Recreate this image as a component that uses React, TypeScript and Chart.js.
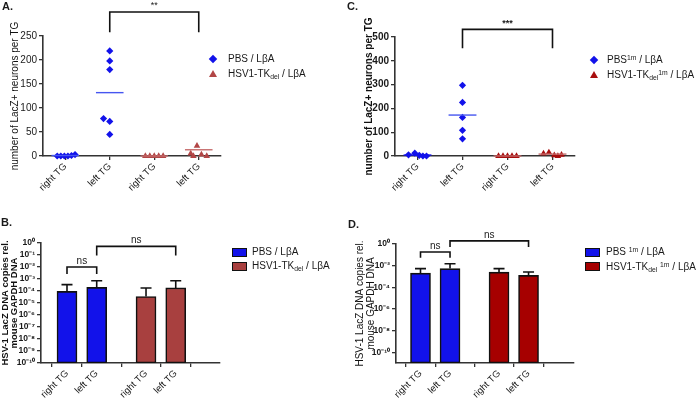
import React, { useEffect, useRef } from "react";
import { Chart, registerables } from "chart.js";
Chart.register(...registerables);

const FONT = "'Liberation Sans', Arial, sans-serif";

// ---------- shared categories ----------
const tgLabels = ["right TG", "left TG", "right TG", "left TG"];
const groupIndex = [1, 2, 3, 4];

// ---------- Panel A: LacZ+ neurons per TG ----------
const aPbsRightTG = [0, 0, 0, 0, 1, 3];
const aPbsRightJitter = [-0.18, -0.1, -0.02, 0.06, 0.14, 0.22];
const aPbsLeftTG = [219, 198, 180, 78, 72, 45];
const aPbsLeftJitter = [0, 0, 0, -0.14, 0, 0];
const aHsvRightTG = [0, 0, 0, 0, 0];
const aHsvRightJitter = [-0.2, -0.1, 0, 0.1, 0.2];
const aHsvLeftTG = [21, 5, 3, 0, 0];
const aHsvLeftJitter = [-0.04, -0.18, 0.06, -0.12, 0.18];
const aMeansPbs = [1, 132];
const aMeansHsv = [0, 13];
const aBracket = { from: 2, to: 4, top: 300, end: 258, text: "**" };

// ---------- Panel C: LacZ+ neurons per TG (1m) ----------
const cPbsRightTG = [12, 5, 3, 0, 0];
const cPbsRightJitter = [-0.06, -0.2, 0.04, 0.12, 0.2];
const cPbsLeftTG = [297, 225, 162, 108, 72];
const cPbsLeftJitter = [0, 0, 0, 0, 0];
const cHsvRightTG = [0, 0, 0, 0, 0];
const cHsvRightJitter = [-0.2, -0.1, 0, 0.1, 0.2];
const cHsvLeftTG = [15, 10, 3, 0, 5];
const cHsvLeftJitter = [-0.08, -0.2, 0.04, 0.12, 0.2];
const cMeansPbs = [4, 172];
const cMeansHsv = [0, 8];
const cBracket = { from: 2, to: 4, top: 532, end: 453, text: "***" };

// ---------- Panel B: LacZ DNA copies (log) ----------
const barPositions = [1, 2, 3.66, 4.66];
const bPbsMeans = [9.3e-5, 2.0e-4];
const bPbsErrTop = [3.4e-4, 7.2e-4];
const bHsvMeans = [3.5e-5, 1.8e-4];
const bHsvErrTop = [1.8e-4, 7.2e-4];
const bYTicks = [1e-10, 1e-9, 1e-8, 1e-7, 1e-6, 1e-5, 1e-4, 1e-3, 1e-2, 1e-1, 1];
const bBrackets = [
  { from: 1, to: 2, top: 1.0e-2, end: 2.6e-3, text: "ns" },
  { from: 2, to: 4.66, top: 0.52, end: 0.093, text: "ns" },
];

// ---------- Panel D: LacZ DNA copies (log, 1m) ----------
const dPbsMeans = [2.0e-3, 5.3e-3];
const dPbsErrTop = [5.3e-3, 1.5e-2];
const dHsvMeans = [2.5e-3, 1.25e-3];
const dHsvErrTop = [5.3e-3, 2.6e-3];
const dYTicks = [1e-10, 1e-8, 1e-6, 1e-4, 1e-2, 1];
const dBrackets = [
  { from: 1, to: 2, top: 0.18, end: 0.055, text: "ns" },
  { from: 2, to: 4.66, top: 1.95, end: 0.54, text: "ns" },
];

// ---------- styles ----------
const BLUE = "#1212ea";
const AXIS = "#333";
const TXT = "#1a1a1a";

const SUP: Record<string, string> = {
  "0": "⁰", "1": "¹", "2": "²", "3": "³", "4": "⁴", "5": "⁵",
  "6": "⁶", "7": "⁷", "8": "⁸", "9": "⁹", "-": "⁻",
};
const pow10 = (v: number) =>
  "10" + String(Math.round(Math.log10(v))).split("").map((c) => SUP[c]).join("");

type Br = { from: number; to: number; top: number; end: number; text: string };

const bracketDataset = (b: Br) => ({
  type: "line",
  data: [
    { x: b.from, y: b.end },
    { x: b.from, y: b.top },
    { x: b.to, y: b.top },
    { x: b.to, y: b.end },
  ],
  borderColor: "#111",
  borderWidth: 1.6,
  pointRadius: 0,
  fill: false,
  tension: 0,
  clip: false,
  borderJoinStyle: "miter",
});

const meanDataset = (center: number, m: number, color: string) => ({
  type: "line",
  data: [
    { x: center - 0.31, y: m },
    { x: center + 0.31, y: m },
  ],
  borderColor: color,
  borderWidth: 1.4,
  pointRadius: 0,
  fill: false,
  clip: false,
});

const pointsDataset = (
  center: number,
  values: number[],
  jitter: number[],
  color: string,
  style: string,
  r: number
) => ({
  type: "scatter",
  data: values.map((y, i) => ({ x: center + jitter[i], y })),
  backgroundColor: color,
  borderColor: color,
  borderWidth: 0,
  pointStyle: style,
  pointRadius: r,
  clip: false,
});

const sigTextPlugin = (items: Br[], font: string, gap: number) => ({
  id: "sigText",
  afterDatasetsDraw(chart: any) {
    const { ctx } = chart;
    const xs = chart.scales.x;
    const ys = chart.scales.y;
    ctx.save();
    ctx.fillStyle = TXT;
    ctx.font = font;
    ctx.textAlign = "center";
    ctx.textBaseline = "middle";
    for (const b of items) {
      const x = (xs.getPixelForValue(b.from) + xs.getPixelForValue(b.to)) / 2;
      const y = ys.getPixelForValue(b.top) - gap;
      ctx.fillText(b.text, x, y);
    }
    ctx.restore();
  },
});

const errorBarPlugin = {
  id: "errorBars",
  afterDatasetsDraw(chart: any) {
    const { ctx } = chart;
    const ys = chart.scales.y;
    ctx.save();
    ctx.strokeStyle = "#111";
    ctx.lineWidth = 1.6;
    chart.data.datasets.forEach((ds: any, di: number) => {
      if (!ds.errorTop) return;
      const meta = chart.getDatasetMeta(di);
      meta.data.forEach((el: any, i: number) => {
        const yE = ys.getPixelForValue(ds.errorTop[i]);
        ctx.beginPath();
        ctx.moveTo(el.x, el.y);
        ctx.lineTo(el.x, yE);
        ctx.moveTo(el.x - 5.5, yE);
        ctx.lineTo(el.x + 5.5, yE);
        ctx.stroke();
      });
    });
    ctx.restore();
  },
};

type Layout = { yWidth: number; xHeight: number; top: number; right: number };

const xTicksCommon = (font: any) => ({
  autoSkip: false,
  minRotation: 45,
  maxRotation: 45,
  color: TXT,
  font,
  padding: 1,
});

const axisGrid = {
  display: true,
  drawOnChartArea: false,
  drawTicks: true,
  tickLength: 4,
  color: AXIS,
  lineWidth: 1.3,
};

function scatterConfig(opts: {
  layout: Layout;
  yMax: number;
  yStep: number;
  tickFont: any;
  titleFont: any;
  titlePad: number;
  datasets: any[];
  bracket: Br;
  sigFont: string;
}) {
  const { layout } = opts;
  return {
    type: "scatter",
    data: { datasets: opts.datasets },
    options: {
      responsive: false,
      animation: false,
      events: [],
      layout: { padding: { top: layout.top, right: layout.right, left: 0, bottom: 0 } },
      plugins: { legend: { display: false }, tooltip: { enabled: false } },
      scales: {
        x: {
          type: "linear",
          min: 0.5,
          max: 4.5,
          afterBuildTicks: (s: any) => {
            s.ticks = groupIndex.map((v) => ({ value: v }));
          },
          afterFit: (s: any) => {
            s.height = layout.xHeight;
          },
          ticks: {
            ...xTicksCommon({ family: FONT, size: 9.5 }),
            callback: (v: any) => tgLabels[Math.round(v) - 1],
          },
          grid: axisGrid,
          border: { display: true, color: AXIS, width: 1.6 },
        },
        y: {
          type: "linear",
          min: 0,
          max: opts.yMax,
          afterFit: (s: any) => {
            s.width = layout.yWidth;
          },
          ticks: { stepSize: opts.yStep, color: TXT, font: opts.tickFont, padding: 2 },
          grid: axisGrid,
          border: { display: true, color: AXIS, width: 1.6 },
          title: {
            display: true,
            text: "number of LacZ+ neurons per TG",
            color: "#111",
            font: opts.titleFont,
            padding: { top: opts.titlePad, bottom: 0 },
          },
        },
      },
    },
    plugins: [sigTextPlugin([opts.bracket], opts.sigFont, 6)],
  };
}

function barConfig(opts: {
  layout: Layout;
  xMin: number;
  xMax: number;
  yMin: number;
  yTicks: number[];
  tickFont: any;
  titleFont: any;
  titlePad: number;
  datasets: any[];
  brackets: Br[];
}) {
  const { layout } = opts;
  return {
    type: "bar",
    data: { datasets: opts.datasets },
    options: {
      responsive: false,
      animation: false,
      events: [],
      layout: { padding: { top: layout.top, right: layout.right, left: 0, bottom: 0 } },
      plugins: { legend: { display: false }, tooltip: { enabled: false } },
      scales: {
        x: {
          type: "linear",
          offset: false,
          min: opts.xMin,
          max: opts.xMax,
          afterBuildTicks: (s: any) => {
            s.ticks = barPositions.map((v) => ({ value: v }));
          },
          afterFit: (s: any) => {
            s.height = layout.xHeight;
          },
          ticks: {
            ...xTicksCommon({ family: FONT, size: 9.5 }),
            callback: (v: any) => tgLabels[barPositions.indexOf(v)] ?? "",
          },
          grid: axisGrid,
          border: { display: true, color: AXIS, width: 1.6 },
        },
        y: {
          type: "logarithmic",
          min: opts.yMin,
          max: 1,
          afterBuildTicks: (s: any) => {
            s.ticks = opts.yTicks.map((v) => ({ value: v }));
          },
          afterFit: (s: any) => {
            s.width = layout.yWidth;
          },
          ticks: {
            autoSkip: false,
            color: TXT,
            font: opts.tickFont,
            padding: 2,
            callback: (v: any) => pow10(Number(v)),
          },
          grid: axisGrid,
          border: { display: true, color: AXIS, width: 1.6 },
          title: {
            display: true,
            text: ["HSV-1 LacZ DNA copies rel.", "mouse GAPDH DNA"],
            color: "#111",
            font: opts.titleFont,
            padding: { top: opts.titlePad, bottom: 0 },
          },
        },
      },
    },
    plugins: [errorBarPlugin, sigTextPlugin(opts.brackets, `10px ${FONT}`, 6)],
  };
}

const barDataset = (means: number[], errTop: number[], pos: number[], color: string) => ({
  type: "bar",
  data: means.map((y, i) => ({ x: pos[i], y })),
  backgroundColor: color,
  borderColor: "#111",
  borderWidth: 1.6,
  borderSkipped: false,
  barThickness: 20,
  grouped: false,
  errorTop: errTop,
});

function ChartPanel(props: { left: number; top: number; width: number; height: number; build: () => any }) {
  const ref = useRef<HTMLCanvasElement>(null);
  useEffect(() => {
    const chart = new Chart(ref.current as HTMLCanvasElement, props.build());
    return () => chart.destroy();
  }, []);
  return (
    <canvas
      ref={ref}
      width={props.width}
      height={props.height}
      style={{ position: "absolute", left: props.left, top: props.top, width: props.width, height: props.height }}
    />
  );
}

const abs = (left: number, top: number, extra: React.CSSProperties = {}): React.CSSProperties => ({
  position: "absolute",
  left,
  top,
  whiteSpace: "nowrap",
  color: TXT,
  fontFamily: FONT,
  ...extra,
});

const subStyle: React.CSSProperties = { fontSize: "0.68em", verticalAlign: "-0.25em", lineHeight: 0 };
const supStyle: React.CSSProperties = { fontSize: "0.68em", verticalAlign: "0.45em", lineHeight: 0 };

const Diamond = ({ x, y, color }: { x: number; y: number; color: string }) => (
  <div style={{ position: "absolute", left: x - 3, top: y - 3, width: 6, height: 6, background: color, transform: "rotate(45deg)" }} />
);
const Triangle = ({ x, y, color }: { x: number; y: number; color: string }) => (
  <div
    style={{
      position: "absolute",
      left: x - 4,
      top: y - 4,
      width: 0,
      height: 0,
      borderLeft: "4px solid transparent",
      borderRight: "4px solid transparent",
      borderBottom: `7px solid ${color}`,
    }}
  />
);
const Box = ({ x, y, w, h, color }: { x: number; y: number; w: number; h: number; color: string }) => (
  <div style={{ position: "absolute", left: x, top: y, width: w, height: h, background: color, border: "1px solid #111", boxSizing: "border-box" }} />
);

export default function App() {
  const A_RED = "#b24646";
  const A_RED_MEAN = "#c66c6c";
  const A_BLUE_MEAN = "#4656f0";
  const C_RED = "#a80e0e";
  const C_RED_MEAN = "#c56a6a";
  const B_RED = "#a8403f";
  const D_RED = "#a60000";

  const buildA = () =>
    scatterConfig({
      layout: { yWidth: 43, xHeight: 44, top: 36, right: 11 },
      yMax: 250,
      yStep: 50,
      tickFont: { family: FONT, size: 10 },
      titleFont: { family: FONT, size: 10, lineHeight: 1.2 },
      titlePad: 9,
      bracket: aBracket,
      sigFont: `9px ${FONT}`,
      datasets: [
        bracketDataset(aBracket),
        meanDataset(1, aMeansPbs[0], A_BLUE_MEAN),
        meanDataset(2, aMeansPbs[1], A_BLUE_MEAN),
        meanDataset(3, aMeansHsv[0], A_RED_MEAN),
        meanDataset(4, aMeansHsv[1], A_RED_MEAN),
        pointsDataset(1, aPbsRightTG, aPbsRightJitter, BLUE, "rectRot", 3.6),
        pointsDataset(2, aPbsLeftTG, aPbsLeftJitter, BLUE, "rectRot", 3.6),
        pointsDataset(3, aHsvRightTG, aHsvRightJitter, A_RED, "triangle", 3.8),
        pointsDataset(4, aHsvLeftTG, aHsvLeftJitter, A_RED, "triangle", 3.8),
      ],
    });

  const buildC = () =>
    scatterConfig({
      layout: { yWidth: 49, xHeight: 44, top: 37, right: 11 },
      yMax: 500,
      yStep: 100,
      tickFont: { family: FONT, size: 10, weight: "bold" },
      titleFont: { family: FONT, size: 10, weight: "bold", lineHeight: 1.2 },
      titlePad: 17,
      bracket: cBracket,
      sigFont: `bold 9px ${FONT}`,
      datasets: [
        bracketDataset(cBracket),
        meanDataset(1, cMeansPbs[0], BLUE),
        meanDataset(2, cMeansPbs[1], A_BLUE_MEAN),
        meanDataset(3, cMeansHsv[0], C_RED_MEAN),
        meanDataset(4, cMeansHsv[1], C_RED_MEAN),
        pointsDataset(1, cPbsRightTG, cPbsRightJitter, BLUE, "rectRot", 3.6),
        pointsDataset(2, cPbsLeftTG, cPbsLeftJitter, BLUE, "rectRot", 3.6),
        pointsDataset(3, cHsvRightTG, cHsvRightJitter, C_RED, "triangle", 3.8),
        pointsDataset(4, cHsvLeftTG, cHsvLeftJitter, C_RED, "triangle", 3.8),
      ],
    });

  const buildB = () =>
    barConfig({
      layout: { yWidth: 41, xHeight: 39, top: 43, right: 12 },
      xMin: 0.125,
      xMax: 6.15,
      yMin: 1e-10,
      yTicks: bYTicks,
      tickFont: { family: FONT, size: 8.5, weight: "bold" },
      titleFont: { family: FONT, size: 9.5, weight: "bold", lineHeight: 0.95 },
      titlePad: 1,
      brackets: bBrackets,
      datasets: [
        bracketDataset(bBrackets[0]),
        bracketDataset(bBrackets[1]),
        barDataset(bPbsMeans, bPbsErrTop, barPositions.slice(0, 2), BLUE),
        barDataset(bHsvMeans, bHsvErrTop, barPositions.slice(2, 4), B_RED),
      ],
    });

  const buildD = () =>
    barConfig({
      layout: { yWidth: 50, xHeight: 39, top: 44, right: 12 },
      xMin: 0.17,
      xMax: 6.2,
      yMin: 1e-11,
      yTicks: dYTicks,
      tickFont: { family: FONT, size: 8.5, weight: "bold" },
      titleFont: { family: FONT, size: 10, lineHeight: 1.05 },
      titlePad: 9,
      brackets: dBrackets,
      datasets: [
        bracketDataset(dBrackets[0]),
        bracketDataset(dBrackets[1]),
        barDataset(dPbsMeans, dPbsErrTop, barPositions.slice(0, 2), BLUE),
        barDataset(dHsvMeans, dHsvErrTop, barPositions.slice(2, 4), D_RED),
      ],
    });

  const panelLabel: React.CSSProperties = { fontWeight: "bold", fontSize: 11, lineHeight: "12px" };
  const legendA: React.CSSProperties = { fontSize: 10, lineHeight: "12px" };
  const legendC: React.CSSProperties = { fontSize: 10, lineHeight: "12px" };

  return (
    <div style={{ position: "absolute", left: 0, top: 0, width: 696, height: 402, background: "#fff", overflow: "hidden" }}>
      <ChartPanel left={0} top={0} width={232} height={200} build={buildA} />
      <ChartPanel left={346} top={0} width={240} height={200} build={buildC} />
      <ChartPanel left={0} top={200} width={232} height={202} build={buildB} />
      <ChartPanel left={346} top={200} width={240} height={202} build={buildD} />

      <div style={abs(2, 0, panelLabel)}>A.</div>
      <div style={abs(347, 0, panelLabel)}>C.</div>
      <div style={abs(1, 216, panelLabel)}>B.</div>
      <div style={abs(348, 218, panelLabel)}>D.</div>

      {/* Legend A */}
      <Diamond x={213} y={59} color={BLUE} />
      <div style={abs(228, 53, legendA)}>PBS / LβA</div>
      <Triangle x={213} y={74} color={A_RED} />
      <div style={abs(228, 68, legendA)}>
        HSV1-TK<sub style={subStyle}>del</sub> / LβA
      </div>

      {/* Legend C */}
      <Diamond x={594} y={60} color={BLUE} />
      <div style={abs(607, 54, legendC)}>
        PBS<sup style={supStyle}>1m</sup> / LβA
      </div>
      <Triangle x={594} y={75} color={C_RED} />
      <div style={abs(607, 69, legendC)}>
        HSV1-TK<sub style={subStyle}>del</sub>
        <sup style={supStyle}>1m</sup> / LβA
      </div>

      {/* Legend B */}
      <Box x={232} y={248} w={15} h={9} color={BLUE} />
      <div style={abs(252, 246, legendA)}>PBS / LβA</div>
      <Box x={232} y={262} w={15} h={9} color={B_RED} />
      <div style={abs(252, 260, legendA)}>
        HSV1-TK<sub style={subStyle}>del</sub> / LβA
      </div>

      {/* Legend D */}
      <Box x={585} y={248} w={15} h={9} color={BLUE} />
      <div style={abs(606, 246, legendC)}>
        PBS <sup style={supStyle}>1m</sup> / LβA
      </div>
      <Box x={585} y={262} w={15} h={9} color={D_RED} />
      <div style={abs(606, 261, legendC)}>
        HSV1-TK<sub style={subStyle}>del</sub> <sup style={supStyle}>1m</sup> / LβA
      </div>
    </div>
  );
}
